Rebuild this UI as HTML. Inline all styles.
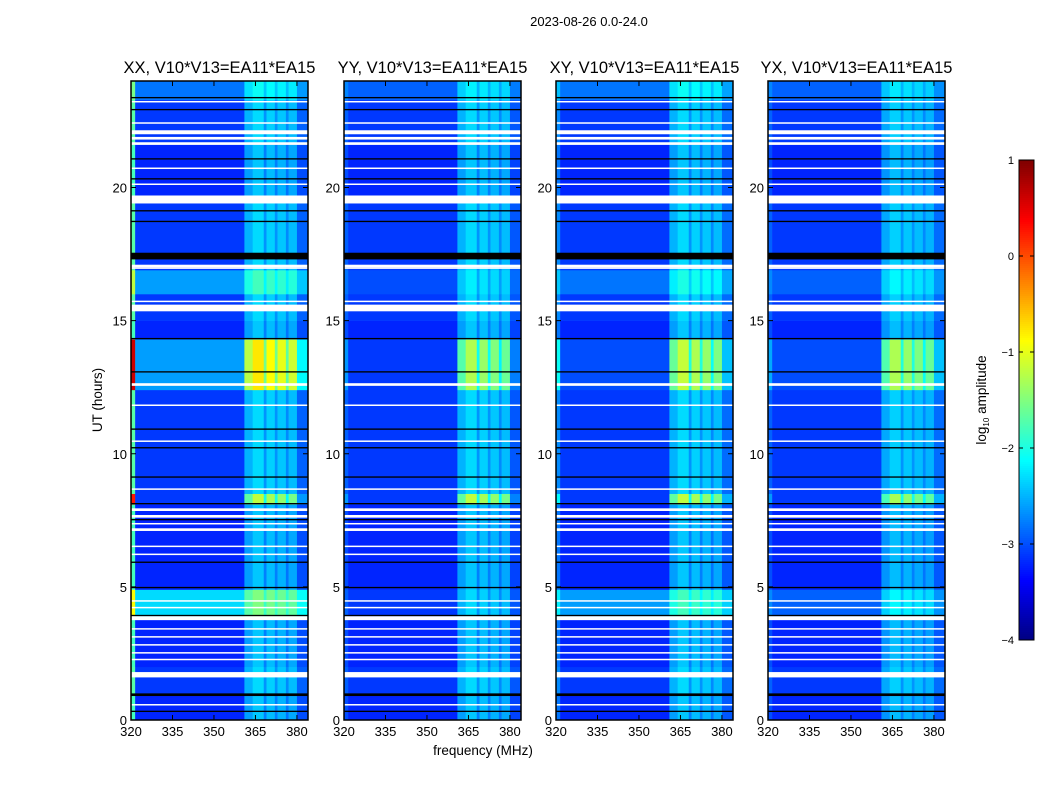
<!DOCTYPE html>
<html><head><meta charset="utf-8"><style>
body{margin:0;background:#fff;width:1050px;height:800px;overflow:hidden;font-family:"Liberation Sans",sans-serif}
</style></head><body>
<svg id="fig" width="1050" height="800" xmlns="http://www.w3.org/2000/svg" font-family="Liberation Sans, sans-serif">
<text x="589" y="26" font-size="13" text-anchor="middle">2023-08-26 0.0-24.0</text>
<text transform="translate(102,400) rotate(-90)" font-size="13.5" text-anchor="middle">UT (hours)</text>
<text x="483" y="755" font-size="13.5" text-anchor="middle">frequency (MHz)</text>
<g id="panels"></g>
<g id="cbar"></g>
<text transform="translate(986,400) rotate(-90)" font-size="13.5" text-anchor="middle">log<tspan font-size="8" dy="3">10</tspan><tspan dy="-3"> amplitude</tspan></text>
</svg>
<script>
const panelTitles=["XX, V10*V13=EA11*EA15","YY, V10*V13=EA11*EA15","XY, V10*V13=EA11*EA15","YX, V10*V13=EA11*EA15"];
const panelLefts=[131,344,556,768];
const xTicks=[320,335,350,365,380];
const yTicks=[0,5,10,15,20];
const hourEdges=[0,1,2,3.8,4.9,8.1,8.5,12.4,14.3,15,16,16.9,19.5,21.7,23.3,24];
const levelsXX=[-3.2,-3.1,-3.2,-2.3,-3.2,-3.1,-3.1,-2.6,-3.2,-3.1,-2.6,-3.1,-3.2,-3.1,-2.8];
const levelsYY=[-3.2,-3.1,-3.2,-3.1,-3.2,-3.1,-3.1,-3.1,-3.2,-3.1,-3.0,-3.1,-3.2,-3.1,-2.9];
const levelsXY=[-3.2,-3.1,-3.2,-2.6,-3.2,-3.1,-3.1,-3.0,-3.2,-3.1,-2.8,-3.1,-3.2,-3.1,-2.8];
const levelsYX=[-3.2,-3.1,-3.2,-2.9,-3.2,-3.1,-3.1,-3.0,-3.2,-3.1,-2.9,-3.1,-3.2,-3.1,-2.9];
const boostScale=[1,1,1,1,1,2.4,1,2.3,1,1,1,1,1,1,0.9];
const freqEdges=[320,321.5,361,364,368,369,372,373,376,377,380,384];
const colBoostXX=[1.4,0,0.6,0.8,0.45,0.75,0.45,0.7,0.4,0.65,0.2];
const colBoostYY=[0.2,0,0.6,0.8,0.45,0.75,0.45,0.7,0.4,0.65,0.15];
const colBoostXY=[0.4,0,0.6,0.8,0.45,0.75,0.45,0.7,0.4,0.65,0.25];
const colBoostYX=[0.2,0,0.55,0.75,0.45,0.7,0.45,0.65,0.4,0.6,0.25];
const whiteRows=[[21.6,21.7],[21.8,21.9],[22.0,22.15],[19.4,19.7],[17.0,17.1],[16.95,17.0],[15.35,15.6],[15.7,15.75],[12.55,12.65],[11.8,11.85],[10.45,10.5],[8.65,8.7],[7.1,7.2],[7.35,7.4],[7.6,7.7],[7.85,7.95],[6.5,6.55],[6.2,6.25],[4.2,4.25],[4.45,4.5],[3.75,3.9],[3.4,3.45],[3.1,3.15],[2.8,2.85],[2.5,2.55],[2.25,2.3],[1.6,1.8],[0.55,0.6],[20.1,20.15],[20.7,20.75],[23.2,23.25],[22.4,22.45]];
const blackRows=[[17.3,17.55],[23.35,23.4],[22.9,22.95],[21.05,21.1],[20.3,20.35],[19.1,19.15],[18.7,18.75],[14.3,14.35],[13.05,13.1],[10.9,10.95],[10.2,10.25],[9.1,9.15],[8.1,8.15],[7.5,7.55],[5.9,5.95],[4.95,5.0],[3.9,3.95],[0.9,1.0],[0.3,0.35]];
const cbarTicks=[1,0,-1,-2,-3,-4];
const panelLevels=[levelsXX,levelsYY,levelsXY,levelsYX];
const panelBoosts=[colBoostXX,colBoostYY,colBoostXY,colBoostYX];
const NS="http://www.w3.org/2000/svg";
const plotTop=81,plotBottom=720,pw=177;
function yScale(h){return plotBottom-(h/24)*(plotBottom-plotTop);}
function xScale(left,f){return left+(f-320)/(384-320)*pw;}
function jet(v){let t=Math.max(0,Math.min(1,(v+4)/5));const c=x=>Math.round(255*Math.max(0,Math.min(1,x)));
return `rgb(${c(1.5-Math.abs(4*t-3))},${c(1.5-Math.abs(4*t-2))},${c(1.5-Math.abs(4*t-1))})`;}
function mk(tag,attrs,parent){const e=document.createElementNS(NS,tag);for(const k in attrs)e.setAttribute(k,attrs[k]);parent.appendChild(e);return e;}
const panels=document.getElementById('panels');
panelLefts.forEach((left,p)=>{
 const g=mk('g',{},panels);
 
 
 const t=mk('text',{x:left+pw/2,y:73,'font-size':16.5,'text-anchor':'middle'},g);
 t.textContent=panelTitles[p];
 
 
 for(let i=0;i<hourEdges.length-1;i++){
  for(let j=0;j<freqEdges.length-1;j++){
   const v=panelLevels[p][i]+panelBoosts[p][j]*boostScale[i];
   const x0=xScale(left,freqEdges[j]),x1=xScale(left,freqEdges[j+1]);
   const y0=yScale(hourEdges[i+1]),y1=yScale(hourEdges[i]);
   const r=mk('rect',{x:x0,y:y0,width:x1-x0+0.3,height:y1-y0+0.3,fill:jet(v)},g);
   
   
  }
 }
 whiteRows.forEach(w=>{const r=mk('rect',{x:left,y:yScale(w[1]),width:pw,height:Math.max(1.5,yScale(w[0])-yScale(w[1])),fill:'#fff'},g);
  
  });
 blackRows.forEach(w=>{const r=mk('rect',{x:left,y:yScale(w[1]),width:pw,height:Math.max(1.2,yScale(w[0])-yScale(w[1])),fill:'#000'},g);
  
  });
 mk('rect',{x:left,y:plotTop,width:pw,height:plotBottom-plotTop,fill:'none',stroke:'#000','stroke-width':1.5},g);
 xTicks.forEach(f=>{const x=xScale(left,f);
  mk('line',{x1:x,x2:x,y1:plotBottom,y2:plotBottom-5,stroke:'#000'},g);
  mk('line',{x1:x,x2:x,y1:plotTop,y2:plotTop+5,stroke:'#000'},g);
  const tt=mk('text',{x:x,y:plotBottom+16,'font-size':13,'text-anchor':'middle'},g);tt.textContent=f;
  
  });
 yTicks.forEach(h=>{const y=yScale(h);
  mk('line',{x1:left,x2:left+5,y1:y,y2:y,stroke:'#000'},g);
  mk('line',{x1:left+pw,x2:left+pw-5,y1:y,y2:y,stroke:'#000'},g);
  const tt=mk('text',{x:left-4,y:y+5,'font-size':13,'text-anchor':'end'},g);tt.textContent=h;
  
  });
});
const cb=document.getElementById('cbar');
const cbTop=160,cbBot=640,cbL=1019,cbW=15;
for(let y=cbTop;y<cbBot;y+=2){const v=1-(y-cbTop)/(cbBot-cbTop)*5;mk('rect',{x:cbL,y:y,width:cbW,height:2.3,fill:jet(v)},cb);}
mk('rect',{x:cbL,y:cbTop,width:cbW,height:cbBot-cbTop,fill:'none',stroke:'#000','stroke-width':1},cb);
cbarTicks.forEach(v=>{const y=cbTop+(1-v)/5*(cbBot-cbTop);
 mk('line',{x1:cbL,x2:cbL+4,y1:y,y2:y,stroke:'#000'},cb);mk('line',{x1:cbL+cbW,x2:cbL+cbW-4,y1:y,y2:y,stroke:'#000'},cb);
 const tt=mk('text',{x:cbL-5,y:y+4,'font-size':11,'text-anchor':'end'},cb);tt.textContent=v<0?'\u2212'+(-v):v;
 
 });
</script>
</body></html>
